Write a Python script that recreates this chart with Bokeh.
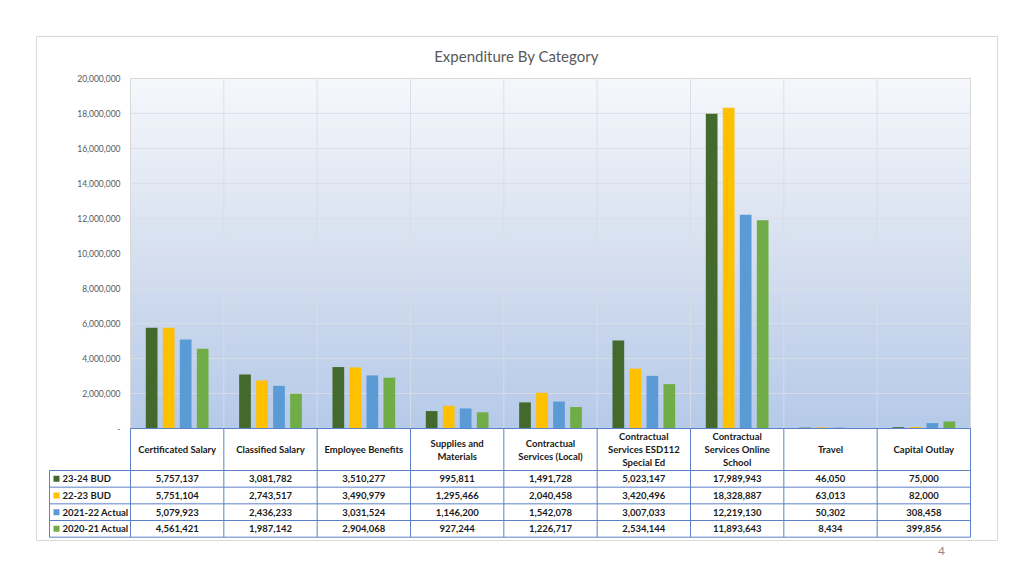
import numpy as np
from bokeh.plotting import figure
from bokeh.models import Range1d
from bokeh.core.properties import value
from bokeh.embed import file_html
from bokeh.resources import INLINE

# ---------------- data ----------------
categories = ["Certificated Salary", "Classified Salary", "Employee Benefits",
              "Supplies and\nMaterials", "Contractual\nServices (Local)",
              "Contractual\nServices ESD112\nSpecial Ed",
              "Contractual\nServices Online\nSchool", "Travel", "Capital Outlay"]
series_names = ["23-24 BUD", "22-23 BUD", "2021-22 Actual", "2020-21 Actual"]
bud_23_24 = [5757137, 3081782, 3510277, 995811, 1491728, 5023147, 17989943, 46050, 75000]
bud_22_23 = [5751104, 2743517, 3490979, 1295466, 2040458, 3420496, 18328887, 63013, 82000]
act_21_22 = [5079923, 2436233, 3031524, 1146200, 1542078, 3007033, 12219130, 50302, 308458]
act_20_21 = [4561421, 1987142, 2904068, 927244, 1226717, 2534144, 11893643, 8434, 399856]
yticks = [0, 2000000, 4000000, 6000000, 8000000, 10000000, 12000000,
          14000000, 16000000, 18000000, 20000000]
title_text = "Expenditure By Category"
page_number = "4"

series = [bud_23_24, bud_22_23, act_21_22, act_20_21]
colors = ["#43692c", "#ffc000", "#5b9bd5", "#70ad47"]

# ---------------- layout helpers (page pixels -> data units) ----------------
W, H = 1008, 560
ORG = 0                        # page offset of the canvas
PX0, PXS = 130.0, 93.333       # chart left edge, pixels per category
PY0, PYS = 428.0, 57142.857    # zero line, value per pixel

def xd(px):
    return (px - PX0) / PXS

def yd(py):
    return (PY0 - py) * PYS

ncat = len(categories)
ymax = yticks[-1]

p = figure(width=W, height=H, output_backend="svg", toolbar_location=None,
           x_range=Range1d(xd(ORG), xd(ORG + W)), y_range=Range1d(yd(ORG + H), yd(ORG)),
           x_axis_location=None, y_axis_location=None, min_border=0,
           tools="")
p.outline_line_color = None
p.xgrid.visible = False
p.ygrid.visible = False
p.background_fill_color = "white"
p.border_fill_color = "white"

FONT = value("Lato")

# outer frame
p.quad(left=[xd(36)], right=[xd(997)], bottom=[yd(540)], top=[yd(36)],
       fill_color=None, line_color="#d9d9d9", line_width=1)

# gradient plot area
top_c = np.array([246, 248, 252], dtype=float)
mid_c = np.array([214, 224, 240], dtype=float)
bot_c = np.array([182, 202, 233], dtype=float)
n = 200
t = np.linspace(0, 1, n)[:, None]  # 0 bottom -> 1 top
cols = np.where(t < 0.5, bot_c + (mid_c - bot_c) * (t / 0.5),
                mid_c + (top_c - mid_c) * ((t - 0.5) / 0.5))
img = np.zeros((n, 1), dtype=np.uint32)
view = img.view(dtype=np.uint8).reshape((n, 1, 4))
view[:, 0, 0] = cols[:, 0].astype(np.uint8)
view[:, 0, 1] = cols[:, 1].astype(np.uint8)
view[:, 0, 2] = cols[:, 2].astype(np.uint8)
view[:, 0, 3] = 255
p.image_rgba(image=[img], x=0, y=0, dw=ncat, dh=ymax)

# grid lines
p.segment(x0=[0] * len(yticks), x1=[ncat] * len(yticks), y0=yticks, y1=yticks,
          line_color="#d8dde6", line_width=1, line_alpha=0.9)
p.segment(x0=list(range(ncat + 1)), x1=list(range(ncat + 1)),
          y0=[0] * (ncat + 1), y1=[ymax] * (ncat + 1),
          line_color="#d8dde6", line_width=1, line_alpha=0.9)
p.quad(left=[0], right=[ncat], bottom=[0], top=[ymax], fill_color=None,
       line_color="#d9d9d9", line_width=1)

# bars
step = 17.0 / PXS
bw = 11.7 / PXS
for k, (vals, c) in enumerate(zip(series, colors)):
    xs = [i + 0.5 + (k - 1.5) * step for i in range(ncat)]
    p.vbar(x=xs, top=vals, bottom=0, width=bw, fill_color=c, line_color=None)

# y tick labels
ylabels = ["-" if v == 0 else f"{v:,}" for v in yticks]
p.text(x=[xd(120)] * len(yticks), y=yticks, text=ylabels, text_font=FONT,
       text_font_size="8.5px", text_color="#595959", text_align="right",
       text_baseline="middle")

# title
p.text(x=[xd(516)], y=[yd(55)], text=[title_text], text_font=FONT,
       text_font_size="15px", text_color="#595959", text_align="center",
       text_baseline="middle")

# ---------------- data table ----------------
LINE = "#5b80c8"
row_h = 16.67
header_bottom = 470.0
nrows = len(series)
row_tops = [header_bottom + r * row_h for r in range(nrows + 1)]
# horizontal lines
p.segment(x0=[0], x1=[ncat], y0=[0], y1=[0], line_color=LINE, line_width=1)
p.segment(x0=[xd(49)] * len(row_tops), x1=[ncat] * len(row_tops),
          y0=[yd(v) for v in row_tops], y1=[yd(v) for v in row_tops],
          line_color=LINE, line_width=1)
# vertical lines
p.segment(x0=list(range(ncat + 1)), x1=list(range(ncat + 1)),
          y0=[0] * (ncat + 1), y1=[yd(row_tops[-1])] * (ncat + 1),
          line_color=LINE, line_width=1)
p.segment(x0=[xd(49)], x1=[xd(49)], y0=[yd(header_bottom)], y1=[yd(row_tops[-1])],
          line_color=LINE, line_width=1)

# header texts
hx, hy, ht = [], [], []
lh = 13.0
for i, cat in enumerate(categories):
    lines = cat.split("\n")
    start = 449.0 - (len(lines) - 1) * lh / 2
    for j, ln in enumerate(lines):
        hx.append(i + 0.5)
        hy.append(yd(start + j * lh))
        ht.append(ln)
p.text(x=hx, y=hy, text=ht, text_font=FONT, text_font_size="9.5px",
       text_font_style="bold", text_color="#1a1a1a", text_align="center",
       text_baseline="middle")

# data rows
for r, (vals, c, name) in enumerate(zip(series, colors, series_names)):
    cy = yd(row_tops[r] + row_h / 2)
    p.text(x=[i + 0.5 for i in range(ncat)], y=[cy] * ncat,
           text=[f"{v:,}" for v in vals], text_font=FONT, text_font_size="9.5px",
           text_font_style="bold", text_color="#1a1a1a", text_align="center",
           text_baseline="middle")
    p.rect(x=[xd(56)], y=[cy], width=6.0 / PXS, height=6.0 * PYS,
           fill_color=c, line_color=None)
    p.text(x=[xd(62)], y=[cy], text=[name], text_font=FONT, text_font_size="9.5px",
           text_font_style="bold", text_color="#1a1a1a", text_align="left",
           text_baseline="middle")

# page number
p.text(x=[xd(941)], y=[yd(550)], text=[page_number], text_font=FONT,
       text_font_size="12px", text_color="#8c8c8c", text_align="center",
       text_baseline="middle")

open("out.html", "w").write(file_html(p, INLINE))
